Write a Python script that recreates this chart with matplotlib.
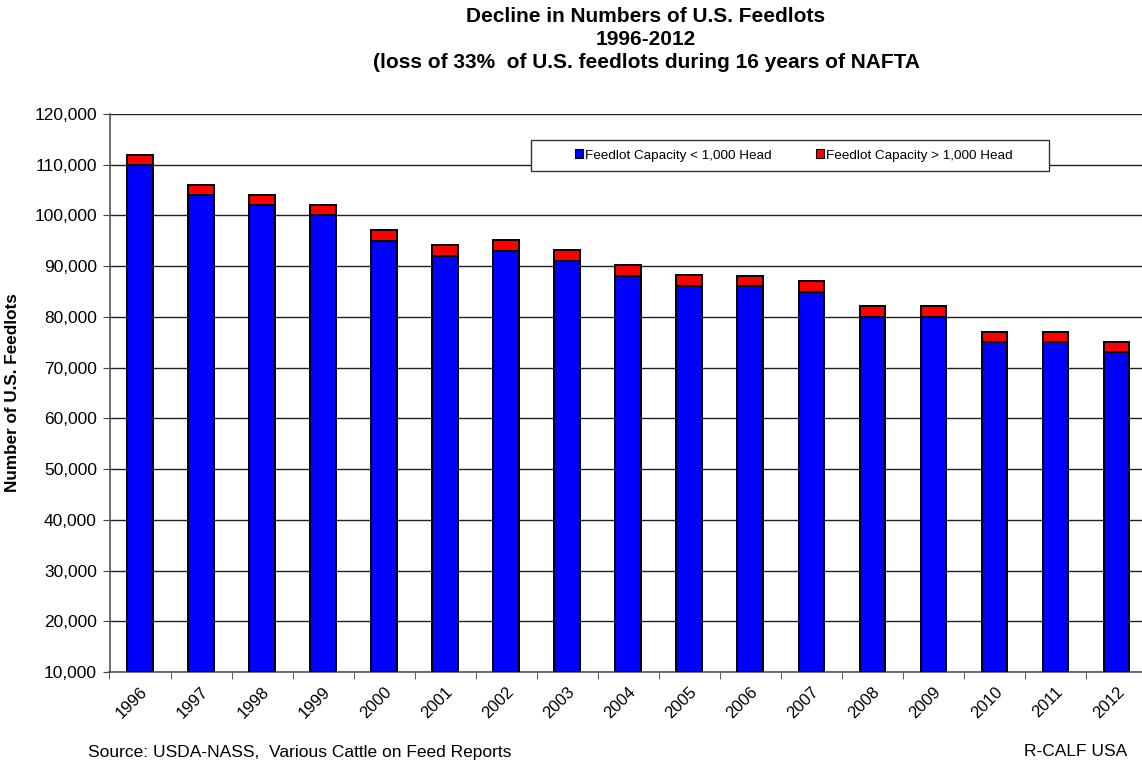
import matplotlib
matplotlib.use("Agg")
import matplotlib.pyplot as plt
import numpy as np
from matplotlib.patches import Rectangle
from matplotlib.ticker import FuncFormatter, MultipleLocator

plt.rcParams['font.family'] = ['Liberation Sans', 'DejaVu Sans']

years = ['1996', '1997', '1998', '1999', '2000', '2001', '2002', '2003', '2004',
         '2005', '2006', '2007', '2008', '2009', '2010', '2011', '2012']
small_lots = [110000, 104000, 102000, 100000, 95000, 92000, 93000, 91000, 88000,
              86000, 86000, 85000, 80000, 80000, 75000, 75000, 73000]
large_lots = [2000, 2100, 2000, 2000, 2100, 2100, 2100, 2100, 2200,
              2200, 2100, 2100, 2200, 2200, 2100, 2100, 2100]

W, H = 1142, 765
fig = plt.figure(figsize=(W / 100, H / 100), dpi=100)
left, right, top, bottom = 109.5, 1147, 114, 672
ax = fig.add_axes([left / W, 1 - bottom / H, (right - left) / W, (bottom - top) / H])

x = np.arange(len(years))
w = 0.42
ax.bar(x, np.array(small_lots) - 10000, w, bottom=10000, color='#0000FF',
       edgecolor='black', linewidth=1.4, label='Feedlot Capacity < 1,000 Head', zorder=3)
ax.bar(x, large_lots, w, bottom=small_lots, color='#FF0000',
       edgecolor='black', linewidth=1.4, label='Feedlot Capacity > 1,000 Head', zorder=3)

ax.set_xlim(-0.5, len(years) - 0.5)
ax.set_ylim(10000, 120000)
ax.yaxis.set_major_locator(MultipleLocator(10000))
ax.yaxis.set_major_formatter(FuncFormatter(lambda v, p: f'{int(v):,}'))
ax.grid(axis='y', color='#222222', linewidth=1.0, zorder=0)

ax.set_xticks(x)
ax.set_xticklabels(years, rotation=45, ha='right', rotation_mode='anchor', fontsize=12)
ax.set_xticks(np.arange(-0.5, len(years), 1), minor=True)
ax.tick_params(axis='x', which='major', length=0, pad=9)
ax.tick_params(axis='x', which='minor', length=5, direction='out', color='#444444')
ax.tick_params(axis='y', length=5, direction='out', labelsize=12.5, color='#444444', pad=4)

for side in ['top', 'right']:
    ax.spines[side].set_visible(False)
for side in ['left', 'bottom']:
    ax.spines[side].set_color('#555555')
    ax.spines[side].set_linewidth(1.2)

ax.set_ylabel('Number of U.S. Feedlots', fontsize=12.3, fontweight='bold', labelpad=10)

# legend box with the two entries centred inside it
bx0, bx1, by0, by1 = 531, 1049, 140, 171
ax.add_patch(Rectangle((bx0 / W, 1 - by1 / H), (bx1 - bx0) / W, (by1 - by0) / H,
                       transform=fig.transFigure, facecolor='white',
                       edgecolor='#333333', linewidth=1.0, zorder=5, clip_on=False))
leg = ax.legend(loc='center', bbox_to_anchor=((bx0 + bx1) / 2 / W + 4 / W, 1 - (by0 + by1) / 2 / H),
                bbox_transform=fig.transFigure, ncol=2, fontsize=9.7, frameon=False,
                handlelength=0.6, handleheight=0.6, handletextpad=0.15, columnspacing=3.3,
                borderpad=0, borderaxespad=0)
leg.set_zorder(6)
for h in leg.legend_handles:
    h.set_edgecolor('black')
    h.set_linewidth(0.8)

fig.text(646 / W, 1 - 7 / H,
         'Decline in Numbers of U.S. Feedlots\n1996-2012\n(loss of 33%  of U.S. feedlots during 16 years of NAFTA',
         ha='center', va='top', fontsize=15, fontweight='bold', linespacing=1.25)

fig.text(88 / W, 1 - 752 / H, 'Source: USDA-NASS,  Various Cattle on Feed Reports',
         ha='left', va='center', fontsize=12.5)
fig.text(1127 / W, 1 - 752 / H, 'R-CALF USA', ha='right', va='center', fontsize=12.5)

fig.savefig('out.png', dpi=100)
